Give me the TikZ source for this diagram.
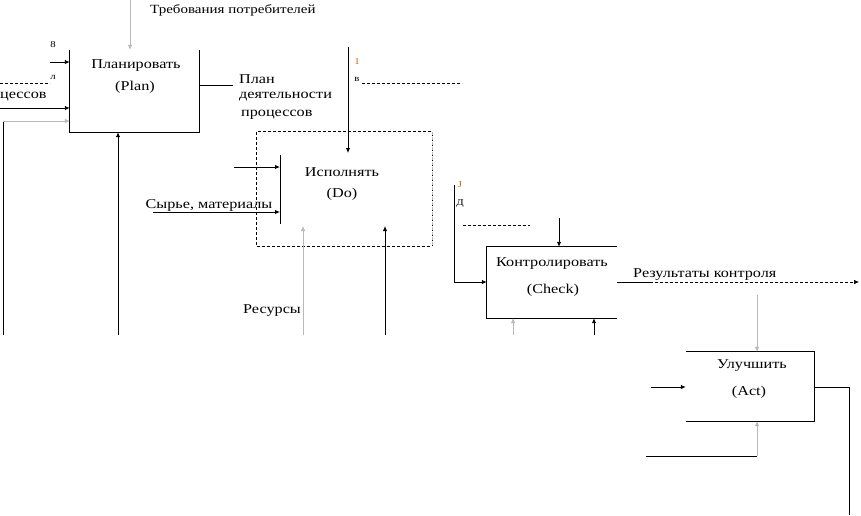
\documentclass[tikz,border=0pt]{standalone}
\usepackage{fontspec}
\setmainfont[FakeStretch=1.2]{Liberation Serif}
\usetikzlibrary{arrows.meta}
\begin{document}
\begin{tikzpicture}[x=1pt,y=-1pt,
  lbl/.style={inner sep=0pt,font=\fontsize{13.5}{16}\selectfont},
  sm/.style={inner sep=0pt,font=\fontsize{9}{10}\selectfont},
  ln/.style={line width=0.9pt},
  gl/.style={line width=0.7pt,draw=gray!55},
  arr/.style={-{Latex[length=5pt,width=4.5pt]}},
  boxn/.style={inner sep=0pt,draw=none}]
\useasboundingbox (0,0) rectangle (861,515);
% ---------- Plan
\node[boxn,minimum width=129pt,minimum height=82pt] (plan) at (134.5,91) {};
\draw[ln] (plan.north west) -- (plan.south west) -- (plan.south east) -- (plan.north east);
\node[lbl] (plant) at (136,66) {Планировать};
\node[lbl] (planp) at (135,87) {(Plan)};
\node[lbl,anchor=west,font=\fontsize{12.5}{15}\selectfont] (treb) at (150,10) {Требования потребителей};
\coordinate (trebtop) at (130,0);
\draw[gl,arr] (trebtop) -- (plan.north west -| trebtop);
\node[sm] (n8a) at (53,45) {8};
\coordinate (in1) at (50,62);
\draw[ln,arr] (in1) -- (in1 -| plan.west);
\node[sm] (n8b) at (53,77) {л};
\coordinate (d1a) at (0,83);
\coordinate (d1b) at (50,83);
\draw[line width=0.6pt,dashed,dash pattern=on 3pt off 2pt] (d1a) -- (d1b);
\node[lbl,anchor=west] (tses) at (0,97) {цессов};
\coordinate (in2) at (0,108);
\draw[ln,arr] (in2) -- (in2 -| plan.west);
\coordinate (in3b) at (3,335);
\coordinate (in3) at (3,121);
\draw[ln] (in3b) -- (in3);
\draw[gl,arr] (in3) -- (in3 -| plan.west);
\coordinate (planbot) at (118,335);
\draw[ln,arr] (planbot) -- (planbot |- plan.south);
\coordinate (planout) at (233,85);
\draw[ln] (plan.east |- planout) -- (planout);
\node[lbl,anchor=west] (pl1) at (239,79) {План};
\node[lbl,anchor=west] (pl2) at (239,97) {деятельности};
\node[lbl,anchor=west] (pl3) at (241,115) {процессов};
% ---------- Do
\node[boxn,minimum width=175pt,minimum height=114pt] (do) at (344.5,189) {};
\draw[line width=0.7pt,dash pattern=on 3pt off 2pt] (do.north west) rectangle (do.south east);
\draw[gl,dash pattern=on 3pt off 2pt] (do.north east) -- (do.south east);
\node[lbl] (dot) at (342,172) {Исполнять};
\node[lbl] (dop) at (342,194) {(Do)};
\coordinate (dotop) at (348,47);
\coordinate (dotip) at (348,153);
\draw[ln,arr] (dotop) -- (dotip);
\node[sm,text=orange!80!black] (n1) at (357,62) {1};
\node[sm] (nv) at (357,79) {в};
\coordinate (d2a) at (362,83);
\coordinate (d2b) at (462,83);
\draw[line width=0.6pt,dash pattern=on 3pt off 2pt] (d2a) -- (d2b);
\coordinate (bara) at (280,155);
\coordinate (barb) at (280,224);
\draw[ln] (bara) -- (barb);
\coordinate (din1) at (234,167);
\draw[ln,arr] (din1) -- (din1 -| bara);
\node[lbl] (syr) at (209,205) {Сырье, материалы};
\coordinate (din2) at (153,212);
\draw[ln,arr] (din2) -- (din2 -| bara);
\node[lbl] (res) at (272,311) {Ресурсы};
\coordinate (rb) at (303,335);
\coordinate (rt) at (303,226);
\draw[gl,arr] (rb) -- (rt);
\coordinate (r2b) at (385,335);
\coordinate (r2t) at (385,226);
\draw[ln,arr] (r2b) -- (r2t);
% ---------- Check
\node[boxn,minimum width=130pt,minimum height=71pt] (chk) at (552,282.5) {};
\draw[ln] (chk.north east) -- (chk.north west) -- (chk.south west) -- (chk.south east);
\node[lbl] (chkt) at (552,264) {Контролировать};
\node[lbl] (chkp) at (553,290) {(Check)};
\coordinate (cta) at (559,218);
\draw[ln,arr] (cta) -- (cta |- chk.north);
\node[sm,text=orange!80!black] (nj) at (460,185) {J};
\node[sm] (nd) at (460,204) {Д};
\coordinate (cl1) at (454,185);
\coordinate (cl2) at (454,282);
\draw[ln,arr] (cl1) -- (cl2) -- (chk.west |- cl2);
\coordinate (d3a) at (463,225);
\coordinate (d3b) at (530,225);
\draw[line width=0.5pt,dash pattern=on 3pt off 2pt] (d3a) -- (d3b);
\coordinate (cb1) at (513,335);
\draw[gl,arr] (cb1) -- (cb1 |- chk.south);
\coordinate (cb2) at (594,335);
\draw[ln,arr] (cb2) -- (cb2 |- chk.south);
\node[lbl,anchor=west] (resk) at (633,275) {Результаты контроля};
\coordinate (co1) at (650,282);
\coordinate (co2) at (859,282);
\draw[ln] (chk.east |- co1) -- (co1);
\draw[line width=0.7pt,dash pattern=on 3pt off 2pt,arr] (co1) -- (co2);
% ---------- Act
\node[boxn,minimum width=128pt,minimum height=69pt] (act) at (750,386.5) {};
\draw[ln] (act.north west) -- (act.north east) -- (act.south east) -- (act.south west);
\node[lbl] (actt) at (752,366) {Улучшить};
\node[lbl] (actp) at (749,392) {(Act)};
\coordinate (at1) at (757,295);
\draw[gl,arr] (at1) -- (at1 |- act.north);
\coordinate (ai) at (651,387);
\draw[ln,arr] (ai) -- (ai -| act.west);
\coordinate (ab1) at (646,456);
\coordinate (ab2) at (757,456);
\draw[ln] (ab1) -- (ab2);
\draw[gl,arr] (ab2) -- (ab2 |- act.south);
\coordinate (ao1) at (849,387);
\coordinate (ao2) at (849,515);
\draw[ln] (act.east |- ao1) -- (ao1) -- (ao2);
\end{tikzpicture}
\end{document}
